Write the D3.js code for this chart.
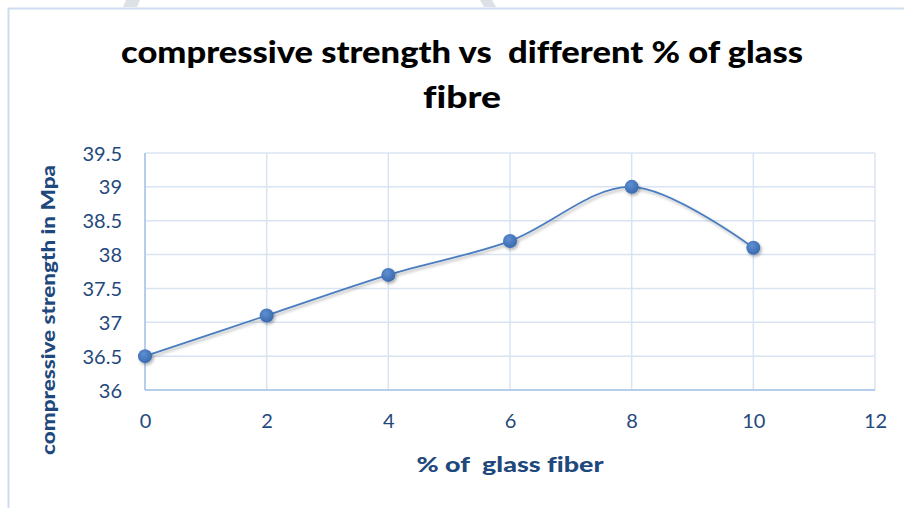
<!DOCTYPE html>
<html><head><meta charset="utf-8">
<script src="https://cdn.jsdelivr.net/npm/d3@7"></script>
<style>body{margin:0;background:#fff}svg{display:block}text{font-variant-ligatures:none;font-feature-settings:"liga" 0;white-space:pre}</style>
</head><body>
<svg id="c" width="904" height="508"></svg>
<script>
const xValues = [0, 2, 4, 6, 8, 10];
const yValues = [36.5, 37.1, 37.7, 38.2, 39.0, 38.1];
const xTicks = [0, 2, 4, 6, 8, 10, 12];
const yTicks = [36, 36.5, 37, 37.5, 38, 38.5, 39, 39.5];
const titleLines = ["compressive strength vs  different % of glass", "fibre"];
const xTitle = "% of  glass fiber";
const yTitle = "compressive strength in Mpa";

const svg = d3.select("#c");
const L = 145, R = 875, T = 153, B = 390;
const x = d3.scaleLinear().domain([0, 12]).range([L, R]);
const y = d3.scaleLinear().domain([36, 39.5]).range([B, T]);
const blue = "#1f497d";
const FONT = "Lato, 'Open Sans', sans-serif";

// watermark fragments at the top
svg.append("polygon").attr("points","126,0 140,0 137,7 123,7").attr("fill","#dde1e5");
svg.append("polygon").attr("points","480,0 492,0 496,7 484,7").attr("fill","#dde1e5");
// chart border
svg.append("path").attr("d","M8.5,508 V8.5 H904").attr("fill","none").attr("stroke","#cfdcef").attr("stroke-width",2);

const defs = svg.append("defs");
const f = defs.append("filter").attr("id","sh").attr("x","-50%").attr("y","-50%").attr("width","200%").attr("height","200%");
f.append("feDropShadow").attr("dx",1.5).attr("dy",2).attr("stdDeviation",1.5).attr("flood-color","#000").attr("flood-opacity",0.3);
const g = defs.append("radialGradient").attr("id","mg").attr("cx","40%").attr("cy","35%").attr("r","70%");
g.append("stop").attr("offset","0%").attr("stop-color","#5f8fd0");
g.append("stop").attr("offset","100%").attr("stop-color","#3567ad");

// gridlines
svg.append("g").selectAll("line").data(yTicks).join("line")
  .attr("x1", L).attr("x2", R).attr("y1", d => y(d)).attr("y2", d => y(d))
  .attr("stroke", "#d9e4f3").attr("stroke-width", 1.5);
svg.append("g").selectAll("line").data(xTicks).join("line")
  .attr("x1", d => x(d)).attr("x2", d => x(d)).attr("y1", T).attr("y2", B)
  .attr("stroke", "#d9e4f3").attr("stroke-width", 1.5);
// axes lines
svg.append("line").attr("x1",L).attr("x2",L).attr("y1",T).attr("y2",B).attr("stroke","#a8c3e8").attr("stroke-width",1.5);
svg.append("line").attr("x1",L).attr("x2",R).attr("y1",B).attr("y2",B).attr("stroke","#a8c3e8").attr("stroke-width",1.5);

// axes labels via d3 axes
const xa = svg.append("g").attr("transform",`translate(0,${B})`)
  .call(d3.axisBottom(x).tickValues(xTicks).tickSize(0).tickPadding(24).tickFormat(d3.format("d")));
const ya = svg.append("g").attr("transform",`translate(${L},0)`)
  .call(d3.axisLeft(y).tickValues(yTicks).tickSize(0).tickPadding(23).tickFormat(d => String(d)));
[xa, ya].forEach(a => {
  a.select(".domain").remove();
  a.selectAll("text").attr("fill", blue).attr("font-family", FONT).attr("font-size", 20);
});
ya.selectAll("text").attr("dy","0.35em");

// line
const line = d3.line().x((d,i) => x(xValues[i])).y(d => y(d)).curve(d3.curveCardinal.tension(0));
svg.append("path").datum(yValues).attr("d", line).attr("fill","none")
  .attr("stroke","#4a7dbf").attr("stroke-width",1.8).attr("filter","url(#sh)");
svg.append("g").selectAll("circle").data(yValues).join("circle")
  .attr("cx",(d,i)=>x(xValues[i])).attr("cy",d=>y(d)).attr("r",7)
  .attr("fill","url(#mg)").attr("filter","url(#sh)");

// titles
const tt = svg.append("g").attr("font-family", FONT).attr("font-weight","900").attr("fill","#000").attr("text-anchor","middle");
tt.append("text").attr("x",462).attr("y",63).attr("font-size",30).attr("textLength",682).attr("lengthAdjust","spacingAndGlyphs").text(titleLines[0]);
tt.append("text").attr("x",462).attr("y",108).attr("font-size",31).attr("textLength",78).attr("lengthAdjust","spacingAndGlyphs").text(titleLines[1]);

svg.append("text").attr("x",510).attr("y",472).attr("text-anchor","middle")
  .attr("font-family", FONT).attr("font-weight","900").attr("font-size",21)
  .attr("fill",blue).attr("textLength",187).attr("lengthAdjust","spacingAndGlyphs").text(xTitle);
svg.append("text").attr("transform","translate(55,310) rotate(-90)").attr("text-anchor","middle")
  .attr("font-family", FONT).attr("font-weight","900").attr("font-size",19)
  .attr("fill",blue).attr("textLength",290).attr("lengthAdjust","spacingAndGlyphs").text(yTitle);
</script>
</body></html>
